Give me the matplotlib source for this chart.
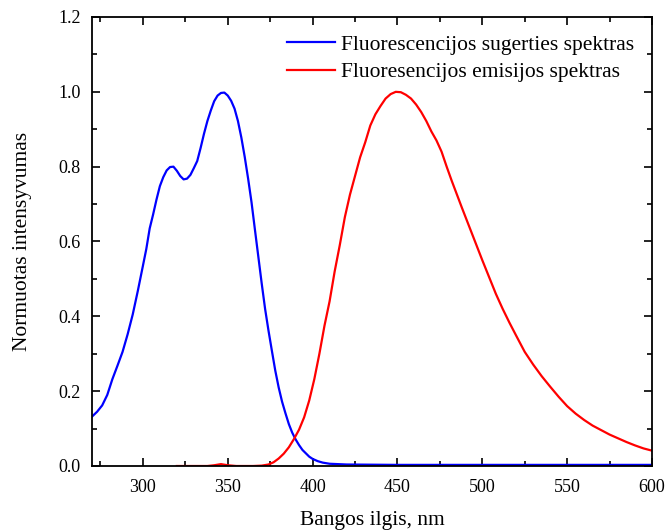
import matplotlib
matplotlib.use("Agg")
import matplotlib.pyplot as plt
from matplotlib.ticker import MultipleLocator, FormatStrFormatter

plt.rcParams['font.family'] = ['Liberation Serif', 'DejaVu Serif']

abs_x = [270, 273, 276, 279, 282, 285, 288, 291, 294, 297, 300, 302, 304, 306, 308, 310, 312, 314, 316, 318,
         320, 322, 324, 326, 328, 330, 332, 334, 336, 338, 340, 342, 344, 346, 348, 350, 352, 354, 356, 358,
         360, 362, 364, 366, 368, 370, 372, 374, 376, 378, 380, 382, 384, 386, 388, 390, 392, 394, 396, 398,
         400, 403, 406, 410, 415, 420, 450, 500, 550, 600]
abs_y = [0.132, 0.145, 0.162, 0.19, 0.232, 0.268, 0.305, 0.352, 0.405, 0.468, 0.535, 0.58, 0.635, 0.672, 0.712,
         0.748, 0.772, 0.79, 0.799, 0.800, 0.789, 0.775, 0.766, 0.768, 0.778, 0.796, 0.815, 0.85, 0.888, 0.922,
         0.950, 0.975, 0.99, 0.997, 0.998, 0.99, 0.976, 0.955, 0.922, 0.878, 0.826, 0.768, 0.705, 0.632, 0.56,
         0.488, 0.42, 0.362, 0.308, 0.255, 0.21, 0.172, 0.141, 0.112, 0.089, 0.071, 0.056, 0.043, 0.034, 0.025,
         0.019, 0.013, 0.009, 0.006, 0.005, 0.004, 0.003, 0.003, 0.003, 0.003]

em_x = [320, 338, 342, 346, 350, 355, 365, 370, 374, 377, 380, 383, 386, 389, 392, 395, 398, 401, 404, 407,
        410, 413, 416, 419, 422, 425, 428, 431, 434, 437, 440, 443, 446, 449, 452, 455, 458, 461, 464, 467,
        470, 473, 476, 479, 482, 485, 488, 491, 494, 497, 500, 504, 508, 512, 516, 520, 525, 530, 535, 540,
        545, 550, 555, 560, 565, 570, 575, 580, 585, 590, 595, 600]
em_y = [0.0, 0.0, 0.002, 0.005, 0.002, 0.0, 0.0, 0.001, 0.004, 0.01, 0.02, 0.033, 0.05, 0.072, 0.097, 0.13,
        0.175, 0.232, 0.3, 0.375, 0.44, 0.52, 0.59, 0.665, 0.725, 0.775, 0.825, 0.865, 0.91, 0.94, 0.962, 0.982,
        0.994, 1.0, 0.999, 0.992, 0.982, 0.966, 0.946, 0.922, 0.894, 0.870, 0.840, 0.800, 0.762, 0.726, 0.690,
        0.655, 0.620, 0.585, 0.550, 0.505, 0.460, 0.420, 0.383, 0.348, 0.305, 0.271, 0.24, 0.212, 0.185, 0.16,
        0.14, 0.123, 0.108, 0.096, 0.084, 0.074, 0.064, 0.055, 0.047, 0.041]

fig = plt.figure(figsize=(6.66, 5.31), dpi=100)
ax = fig.add_axes([92/666, 1 - 466/531, (652-92)/666, (466-17)/531])

ax.plot(abs_x, abs_y, color='#0000ff', lw=1.6, label='Fluorescencijos sugerties spektras')
ax.plot(em_x, em_y, color='#ff0000', lw=1.6, label='Fluoresencijos emisijos spektras')

ax.set_xlim(270, 600)
ax.set_ylim(0, 1.2)
ax.xaxis.set_major_locator(MultipleLocator(50))
ax.xaxis.set_minor_locator(MultipleLocator(25))
ax.yaxis.set_major_locator(MultipleLocator(0.2))
ax.yaxis.set_minor_locator(MultipleLocator(0.1))
ax.yaxis.set_major_formatter(FormatStrFormatter('%.1f'))
ax.tick_params(which='both', direction='in', top=True, right=True, width=1.2, labelsize=13)
ax.tick_params(which='major', length=6)
ax.tick_params(which='minor', length=3.5)
ax.tick_params(axis='x', pad=9)
ax.tick_params(axis='y', pad=8)
for s in ax.spines.values():
    s.set_linewidth(1.3)

ax.set_xlabel('Bangos ilgis, nm', fontsize=15.5, labelpad=11)
ax.set_ylabel('Normuotas intensyvumas', fontsize=15.5, labelpad=19)

ax.legend(loc='upper right', frameon=False, fontsize=15.5, handlelength=2.2, handletextpad=0.3,
          borderaxespad=0.43, borderpad=0.4, labelspacing=0.34)

fig.savefig('out.png', dpi=100)
